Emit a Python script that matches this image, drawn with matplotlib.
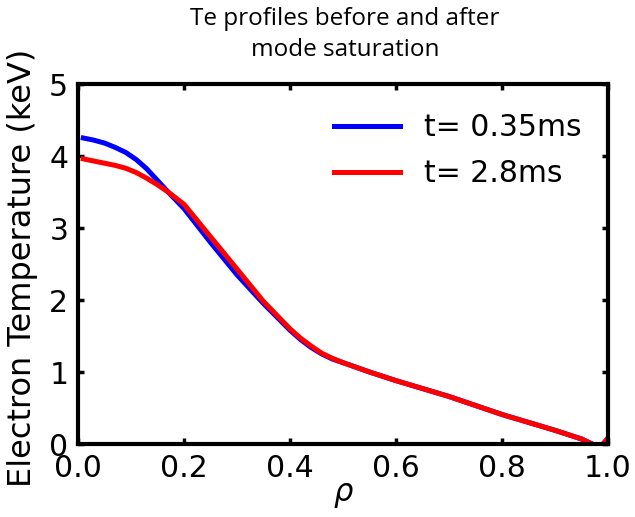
import matplotlib
matplotlib.use("Agg")
import matplotlib.pyplot as plt

rho = [0.01, 0.03, 0.05, 0.07, 0.09, 0.11, 0.13, 0.15, 0.17, 0.2, 0.25, 0.3,
       0.35, 0.4, 0.42, 0.44, 0.46, 0.48, 0.5, 0.55, 0.6, 0.7, 0.8, 0.9,
       0.95, 0.97, 0.985, 1.0]
te_early = [4.25, 4.22, 4.18, 4.12, 4.05, 3.95, 3.82, 3.66, 3.5, 3.27, 2.8, 2.35,
            1.95, 1.58, 1.45, 1.34, 1.25, 1.18, 1.13, 1.0, 0.88, 0.66, 0.41, 0.19,
            0.07, 0.0, -0.05, 0.08]
te_late = [3.96, 3.93, 3.9, 3.87, 3.83, 3.77, 3.69, 3.6, 3.5, 3.33, 2.88, 2.43,
           1.98, 1.6, 1.47, 1.36, 1.26, 1.19, 1.13, 1.0, 0.88, 0.66, 0.41, 0.19,
           0.07, 0.0, -0.05, 0.08]
labels = ["t= 0.35ms", "t= 2.8ms"]
xticks = [0.0, 0.2, 0.4, 0.6, 0.8, 1.0]
yticks = [0, 1, 2, 3, 4, 5]

plt.rcParams['font.family'] = ['DejaVu Sans']

fig = plt.figure(figsize=(6.35, 5.17), dpi=100)
ax = fig.add_axes([78/635, 1-444/517, 530/635, 360/517])

ax.plot(rho, te_early, color='#0000ff', lw=3.6, label=labels[0])
ax.plot(rho, te_late, color='#ff0000', lw=3.6, label=labels[1])

ax.set_xlim(0, 1)
ax.set_ylim(0, 5)
ax.set_xticks(xticks)
ax.set_xticklabels([f"{v:.1f}" for v in xticks])
ax.set_yticks(yticks)
ax.set_yticklabels([str(v) for v in yticks])

for s in ax.spines.values():
    s.set_linewidth(3.0)
ax.tick_params(direction='in', length=4, width=2.5, top=True, right=True,
               labelsize=21.5, pad=7)

ax.set_ylabel("Electron Temperature (keV)", fontsize=23)
ax.yaxis.set_label_coords(-0.075, 0.49)
ax.set_xlabel("ρ", fontsize=22, style='italic', labelpad=-3)

leg = ax.legend(loc='upper right', frameon=False, fontsize=21.5,
                handlelength=2.2, handletextpad=0.8, labelspacing=0.58,
                bbox_to_anchor=(1.0, 0.994))

fig.text(345/635, 1-7/517, "Te profiles before and after\nmode saturation",
         ha='center', va='top', fontsize=17.5, family='Open Sans', linespacing=1.4)

fig.savefig("out.png", dpi=100)
